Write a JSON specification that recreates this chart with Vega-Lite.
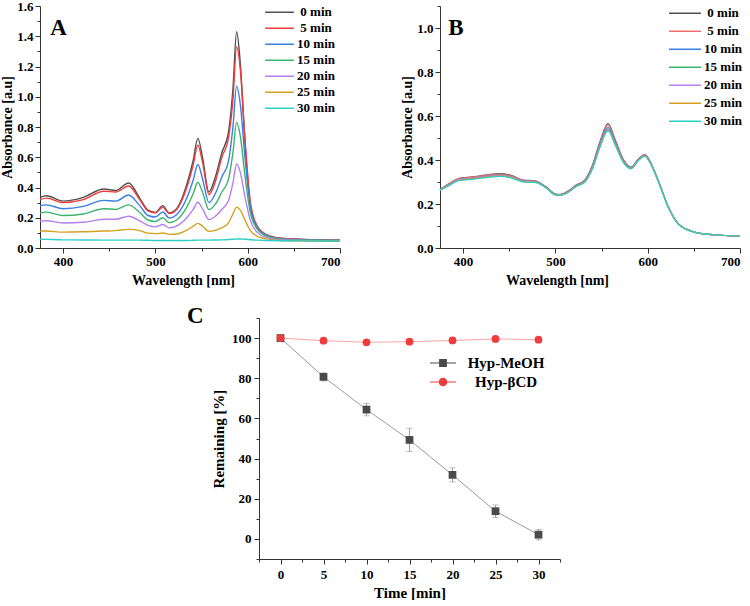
{
  "$schema": "https://vega.github.io/schema/vega-lite/v6.json",
  "padding": {"left": 0, "top": 0, "right": 0, "bottom": 0},
  "background": "white",
  "config": {
    "view": {"stroke": null},
    "font": "Liberation Serif",
    "axis": {"labelFont": "Liberation Serif", "labelFontSize": 13, "labelFontWeight": "bold", "labelColor": "#000", "titleFont": "Liberation Serif", "titleFontSize": 14, "titleFontWeight": "bold", "titleColor": "#000", "domainColor": "#333", "tickColor": "#333", "grid": false, "labelOverlap": false, "labelPadding": 2, "titlePadding": 4, "tickCount": 100},
    "legend": {"labelFont": "Liberation Serif", "labelFontWeight": "bold", "labelFontSize": 13, "labelColor": "#000", "padding": 0}
  },
  "spacing": 18,
  "resolve": {"scale": {"color": "independent", "shape": "independent"}, "legend": {"color": "independent", "shape": "independent"}},
  "vconcat": [
    {
      "spacing": 57,
      "resolve": {"scale": {"color": "independent"}, "legend": {"color": "independent"}},
      "hconcat": [
        {
          "width": 300, "height": 242,
          "layer": [
            {
              "data": {"values": [
                {"w": 375, "0 min": 0.335, "5 min": 0.32, "10 min": 0.28, "15 min": 0.232, "20 min": 0.178, "25 min": 0.112, "30 min": 0.058},
                {"w": 382, "0 min": 0.345, "5 min": 0.33, "10 min": 0.285, "15 min": 0.237, "20 min": 0.18, "25 min": 0.112, "30 min": 0.057},
                {"w": 400, "0 min": 0.31, "5 min": 0.3, "10 min": 0.26, "15 min": 0.215, "20 min": 0.165, "25 min": 0.105, "30 min": 0.054},
                {"w": 422, "0 min": 0.335, "5 min": 0.32, "10 min": 0.275, "15 min": 0.225, "20 min": 0.17, "25 min": 0.107, "30 min": 0.053},
                {"w": 444, "0 min": 0.39, "5 min": 0.375, "10 min": 0.315, "15 min": 0.26, "20 min": 0.19, "25 min": 0.112, "30 min": 0.052},
                {"w": 457, "0 min": 0.38, "5 min": 0.37, "10 min": 0.31, "15 min": 0.255, "20 min": 0.19, "25 min": 0.115, "30 min": 0.052},
                {"w": 471, "0 min": 0.43, "5 min": 0.41, "10 min": 0.35, "15 min": 0.285, "20 min": 0.21, "25 min": 0.123, "30 min": 0.052},
                {"w": 483, "0 min": 0.33, "5 min": 0.32, "10 min": 0.28, "15 min": 0.235, "20 min": 0.18, "25 min": 0.115, "30 min": 0.052},
                {"w": 492, "0 min": 0.25, "5 min": 0.245, "10 min": 0.215, "15 min": 0.185, "20 min": 0.15, "25 min": 0.098, "30 min": 0.051},
                {"w": 500, "0 min": 0.235, "5 min": 0.232, "10 min": 0.205, "15 min": 0.175, "20 min": 0.14, "25 min": 0.095, "30 min": 0.05},
                {"w": 508, "0 min": 0.28, "5 min": 0.27, "10 min": 0.238, "15 min": 0.2, "20 min": 0.155, "25 min": 0.099, "30 min": 0.05},
                {"w": 515, "0 min": 0.232, "5 min": 0.228, "10 min": 0.198, "15 min": 0.168, "20 min": 0.133, "25 min": 0.09, "30 min": 0.05},
                {"w": 523, "0 min": 0.26, "5 min": 0.255, "10 min": 0.22, "15 min": 0.185, "20 min": 0.145, "25 min": 0.093, "30 min": 0.05},
                {"w": 534, "0 min": 0.42, "5 min": 0.4, "10 min": 0.33, "15 min": 0.27, "20 min": 0.2, "25 min": 0.118, "30 min": 0.05},
                {"w": 541, "0 min": 0.58, "5 min": 0.55, "10 min": 0.45, "15 min": 0.36, "20 min": 0.255, "25 min": 0.145, "30 min": 0.051},
                {"w": 546, "0 min": 0.725, "5 min": 0.68, "10 min": 0.552, "15 min": 0.435, "20 min": 0.302, "25 min": 0.163, "30 min": 0.052},
                {"w": 551, "0 min": 0.6, "5 min": 0.57, "10 min": 0.46, "15 min": 0.37, "20 min": 0.26, "25 min": 0.145, "30 min": 0.052},
                {"w": 558, "0 min": 0.37, "5 min": 0.353, "10 min": 0.3, "15 min": 0.254, "20 min": 0.188, "25 min": 0.11, "30 min": 0.052},
                {"w": 565, "0 min": 0.47, "5 min": 0.44, "10 min": 0.36, "15 min": 0.29, "20 min": 0.21, "25 min": 0.117, "30 min": 0.053},
                {"w": 572, "0 min": 0.63, "5 min": 0.6, "10 min": 0.47, "15 min": 0.37, "20 min": 0.255, "25 min": 0.135, "30 min": 0.054},
                {"w": 579, "0 min": 0.76, "5 min": 0.72, "10 min": 0.57, "15 min": 0.45, "20 min": 0.31, "25 min": 0.165, "30 min": 0.056},
                {"w": 584, "0 min": 1.05, "5 min": 0.98, "10 min": 0.8, "15 min": 0.63, "20 min": 0.43, "25 min": 0.225, "30 min": 0.058},
                {"w": 588, "0 min": 1.43, "5 min": 1.33, "10 min": 1.07, "15 min": 0.83, "20 min": 0.555, "25 min": 0.27, "30 min": 0.06},
                {"w": 592, "0 min": 1.22, "5 min": 1.18, "10 min": 0.95, "15 min": 0.74, "20 min": 0.5, "25 min": 0.25, "30 min": 0.06},
                {"w": 597, "0 min": 0.71, "5 min": 0.72, "10 min": 0.6, "15 min": 0.48, "20 min": 0.34, "25 min": 0.185, "30 min": 0.058},
                {"w": 603, "0 min": 0.27, "5 min": 0.3, "10 min": 0.27, "15 min": 0.23, "20 min": 0.18, "25 min": 0.115, "30 min": 0.055},
                {"w": 610, "0 min": 0.13, "5 min": 0.15, "10 min": 0.14, "15 min": 0.13, "20 min": 0.105, "25 min": 0.078, "30 min": 0.052},
                {"w": 620, "0 min": 0.085, "5 min": 0.09, "10 min": 0.085, "15 min": 0.08, "20 min": 0.07, "25 min": 0.06, "30 min": 0.05},
                {"w": 635, "0 min": 0.065, "5 min": 0.065, "10 min": 0.062, "15 min": 0.06, "20 min": 0.055, "25 min": 0.05, "30 min": 0.048},
                {"w": 660, "0 min": 0.057, "5 min": 0.057, "10 min": 0.055, "15 min": 0.053, "20 min": 0.05, "25 min": 0.048, "30 min": 0.047},
                {"w": 700, "0 min": 0.052, "5 min": 0.052, "10 min": 0.05, "15 min": 0.049, "20 min": 0.047, "25 min": 0.046, "30 min": 0.045}
              ]},
              "transform": [{"fold": ["0 min", "5 min", "10 min", "15 min", "20 min", "25 min", "30 min"], "as": ["time", "abs"]}],
              "mark": {"type": "line", "interpolate": "monotone", "strokeWidth": 1.4},
              "encoding": {
                "x": {"field": "w", "type": "quantitative", "scale": {"domain": [375, 700], "nice": false, "zero": false},
                  "axis": {"title": "Wavelength [nm]", "titleX": 143, "values": [400, 450, 500, 550, 600, 650, 700], "tickCount": 100, "labelExpr": "datum.value % 100 === 0 ? datum.label : ''", "tickSize": {"condition": {"test": "datum.value % 100 === 0", "value": 5}, "value": 3}, "titlePadding": 5, "labelOverlap": false}},
                "y": {"field": "abs", "type": "quantitative", "scale": {"domain": [0, 1.6], "nice": false},
                  "axis": {"title": "Absorbance [a.u]", "values": [0, 0.1, 0.2, 0.3, 0.4, 0.5, 0.6, 0.7, 0.8, 0.9, 1.0, 1.1, 1.2, 1.3, 1.4, 1.5, 1.6], "tickCount": 100, "labelExpr": "round(datum.value*10) % 2 === 0 ? format(datum.value, '.1f') : ''", "tickSize": {"condition": {"test": "round(datum.value*10) % 2 === 0", "value": 5}, "value": 3}, "titlePadding": 2, "labelOverlap": false}},
                "color": {"field": "time", "type": "nominal",
                  "scale": {"domain": ["0 min", "5 min", "10 min", "15 min", "20 min", "25 min", "30 min"], "range": ["#505050", "#f03c3c", "#3a7ee4", "#3cb46e", "#b57ff0", "#d4a020", "#2ccfc8"]},
                  "legend": {"title": null, "orient": "none", "legendX": 224, "legendY": -1.5, "symbolType": "stroke", "symbolSize": 824, "symbolStrokeWidth": 1.6, "clipHeight": 15.5, "rowPadding": 0, "labelAlign": "center", "labelOffset": 21}}
              }
            },
            {
              "data": {"values": [{"w": 386, "abs": 1.455, "label": "A"}]},
              "mark": {"type": "text", "font": "Liberation Serif", "fontWeight": "bold", "fontSize": 23, "align": "left", "baseline": "middle", "color": "#000"},
              "encoding": {"x": {"field": "w", "type": "quantitative"}, "y": {"field": "abs", "type": "quantitative"}, "text": {"field": "label"}}
            }
          ]
        },
        {
          "width": 300, "height": 242,
          "layer": [
            {
              "data": {"values": [
                {"w": 375, "0 min": 0.266, "5 min": 0.266, "10 min": 0.265, "15 min": 0.264, "20 min": 0.264, "25 min": 0.263, "30 min": 0.262},
                {"w": 385, "0 min": 0.293, "5 min": 0.292, "10 min": 0.288, "15 min": 0.286, "20 min": 0.287, "25 min": 0.285, "30 min": 0.284},
                {"w": 395, "0 min": 0.316, "5 min": 0.315, "10 min": 0.311, "15 min": 0.309, "20 min": 0.31, "25 min": 0.308, "30 min": 0.306},
                {"w": 410, "0 min": 0.323, "5 min": 0.322, "10 min": 0.317, "15 min": 0.315, "20 min": 0.316, "25 min": 0.314, "30 min": 0.312},
                {"w": 425, "0 min": 0.332, "5 min": 0.33, "10 min": 0.325, "15 min": 0.323, "20 min": 0.324, "25 min": 0.322, "30 min": 0.32},
                {"w": 440, "0 min": 0.338, "5 min": 0.336, "10 min": 0.331, "15 min": 0.329, "20 min": 0.33, "25 min": 0.328, "30 min": 0.326},
                {"w": 452, "0 min": 0.33, "5 min": 0.328, "10 min": 0.324, "15 min": 0.322, "20 min": 0.323, "25 min": 0.321, "30 min": 0.319},
                {"w": 465, "0 min": 0.309, "5 min": 0.308, "10 min": 0.305, "15 min": 0.303, "20 min": 0.304, "25 min": 0.302, "30 min": 0.301},
                {"w": 478, "0 min": 0.305, "5 min": 0.304, "10 min": 0.302, "15 min": 0.3, "20 min": 0.301, "25 min": 0.299, "30 min": 0.298},
                {"w": 490, "0 min": 0.278, "5 min": 0.277, "10 min": 0.276, "15 min": 0.274, "20 min": 0.275, "25 min": 0.274, "30 min": 0.273},
                {"w": 500, "0 min": 0.245, "5 min": 0.244, "10 min": 0.243, "15 min": 0.242, "20 min": 0.243, "25 min": 0.242, "30 min": 0.241},
                {"w": 505, "0 min": 0.243, "5 min": 0.242, "10 min": 0.241, "15 min": 0.24, "20 min": 0.241, "25 min": 0.24, "30 min": 0.239},
                {"w": 515, "0 min": 0.262, "5 min": 0.261, "10 min": 0.259, "15 min": 0.257, "20 min": 0.258, "25 min": 0.257, "30 min": 0.256},
                {"w": 522, "0 min": 0.285, "5 min": 0.284, "10 min": 0.281, "15 min": 0.279, "20 min": 0.28, "25 min": 0.279, "30 min": 0.278},
                {"w": 532, "0 min": 0.31, "5 min": 0.309, "10 min": 0.305, "15 min": 0.302, "20 min": 0.303, "25 min": 0.301, "30 min": 0.3},
                {"w": 540, "0 min": 0.375, "5 min": 0.373, "10 min": 0.367, "15 min": 0.363, "20 min": 0.362, "25 min": 0.36, "30 min": 0.358},
                {"w": 548, "0 min": 0.48, "5 min": 0.477, "10 min": 0.468, "15 min": 0.462, "20 min": 0.46, "25 min": 0.457, "30 min": 0.455},
                {"w": 557, "0 min": 0.565, "5 min": 0.56, "10 min": 0.548, "15 min": 0.54, "20 min": 0.538, "25 min": 0.535, "30 min": 0.532},
                {"w": 565, "0 min": 0.49, "5 min": 0.487, "10 min": 0.478, "15 min": 0.472, "20 min": 0.47, "25 min": 0.468, "30 min": 0.466},
                {"w": 574, "0 min": 0.4, "5 min": 0.398, "10 min": 0.393, "15 min": 0.39, "20 min": 0.389, "25 min": 0.388, "30 min": 0.387},
                {"w": 582, "0 min": 0.368, "5 min": 0.367, "10 min": 0.364, "15 min": 0.362, "20 min": 0.362, "25 min": 0.361, "30 min": 0.36},
                {"w": 590, "0 min": 0.405, "5 min": 0.404, "10 min": 0.402, "15 min": 0.4, "20 min": 0.4, "25 min": 0.399, "30 min": 0.398},
                {"w": 597, "0 min": 0.425, "5 min": 0.424, "10 min": 0.421, "15 min": 0.419, "20 min": 0.419, "25 min": 0.418, "30 min": 0.417},
                {"w": 603, "0 min": 0.39, "5 min": 0.389, "10 min": 0.387, "15 min": 0.386, "20 min": 0.386, "25 min": 0.385, "30 min": 0.385},
                {"w": 612, "0 min": 0.3, "5 min": 0.3, "10 min": 0.299, "15 min": 0.298, "20 min": 0.298, "25 min": 0.298, "30 min": 0.297},
                {"w": 622, "0 min": 0.19, "5 min": 0.19, "10 min": 0.19, "15 min": 0.189, "20 min": 0.189, "25 min": 0.189, "30 min": 0.189},
                {"w": 632, "0 min": 0.115, "5 min": 0.115, "10 min": 0.115, "15 min": 0.115, "20 min": 0.115, "25 min": 0.114, "30 min": 0.114},
                {"w": 645, "0 min": 0.08, "5 min": 0.08, "10 min": 0.08, "15 min": 0.08, "20 min": 0.08, "25 min": 0.08, "30 min": 0.08},
                {"w": 660, "0 min": 0.064, "5 min": 0.064, "10 min": 0.064, "15 min": 0.064, "20 min": 0.064, "25 min": 0.064, "30 min": 0.064},
                {"w": 680, "0 min": 0.058, "5 min": 0.058, "10 min": 0.058, "15 min": 0.058, "20 min": 0.058, "25 min": 0.058, "30 min": 0.058},
                {"w": 700, "0 min": 0.054, "5 min": 0.054, "10 min": 0.054, "15 min": 0.054, "20 min": 0.054, "25 min": 0.054, "30 min": 0.054}
              ]},
              "transform": [{"fold": ["0 min", "5 min", "10 min", "15 min", "20 min", "25 min", "30 min"], "as": ["time", "abs"]}],
              "mark": {"type": "line", "interpolate": "monotone", "strokeWidth": 1.2},
              "encoding": {
                "x": {"field": "w", "type": "quantitative", "scale": {"domain": [375, 700], "nice": false, "zero": false},
                  "axis": {"title": "Wavelength [nm]", "titleX": 117, "values": [400, 450, 500, 550, 600, 650, 700], "tickCount": 100, "labelExpr": "datum.value % 100 === 0 ? datum.label : ''", "tickSize": {"condition": {"test": "datum.value % 100 === 0", "value": 5}, "value": 3}, "titlePadding": 5, "labelOverlap": false}},
                "y": {"field": "abs", "type": "quantitative", "scale": {"domain": [0, 1.1], "nice": false},
                  "axis": {"title": "Absorbance [a.u]", "values": [0, 0.1, 0.2, 0.3, 0.4, 0.5, 0.6, 0.7, 0.8, 0.9, 1.0, 1.1], "tickCount": 100, "labelExpr": "round(datum.value*10) % 2 === 0 ? format(datum.value, '.1f') : ''", "tickSize": {"condition": {"test": "round(datum.value*10) % 2 === 0", "value": 5}, "value": 3}, "titlePadding": 2, "labelOverlap": false}},
                "color": {"field": "time", "type": "nominal",
                  "scale": {"domain": ["0 min", "5 min", "10 min", "15 min", "20 min", "25 min", "30 min"], "range": ["#505050", "#f07070", "#3a7ee4", "#3cb46e", "#b57ff0", "#d4a020", "#2ccfc8"]},
                  "legend": {"title": null, "orient": "none", "legendX": 228, "legendY": -1.5, "symbolType": "stroke", "symbolSize": 1024, "symbolStrokeWidth": 1.6, "clipHeight": 17.5, "rowPadding": 0, "labelAlign": "center", "labelOffset": 21}}
              }
            },
            {
              "data": {"values": [{"w": 384, "abs": 1.0, "label": "B"}]},
              "mark": {"type": "text", "font": "Liberation Serif", "fontWeight": "bold", "fontSize": 23, "align": "left", "baseline": "middle", "color": "#000"},
              "encoding": {"x": {"field": "w", "type": "quantitative"}, "y": {"field": "abs", "type": "quantitative"}, "text": {"field": "label"}}
            }
          ]
        }
      ]
    },
    {
      "spacing": 0,
      "resolve": {"scale": {"color": "independent", "shape": "independent"}, "legend": {"color": "independent", "shape": "independent"}},
      "hconcat": [
        {
          "width": 147, "height": 241,
          "view": {"fill": "transparent", "stroke": null},
          "data": {"values": []},
          "mark": "point",
          "encoding": {}
        },
        {
          "width": 301, "height": 241,
          "data": {"values": [
            {"series": "Hyp-MeOH", "time": 0, "rem": 100, "lo": 100, "hi": 100},
            {"series": "Hyp-MeOH", "time": 5, "rem": 80.7, "lo": 78.7, "hi": 82.7},
            {"series": "Hyp-MeOH", "time": 10, "rem": 64.4, "lo": 61.3, "hi": 67.5},
            {"series": "Hyp-MeOH", "time": 15, "rem": 49.3, "lo": 43.5, "hi": 55.1},
            {"series": "Hyp-MeOH", "time": 20, "rem": 31.9, "lo": 28.4, "hi": 35.4},
            {"series": "Hyp-MeOH", "time": 25, "rem": 13.8, "lo": 10.7, "hi": 16.9},
            {"series": "Hyp-MeOH", "time": 30, "rem": 2.1, "lo": -0.5, "hi": 4.7},
            {"series": "Hyp-βCD", "time": 0, "rem": 100, "lo": 100, "hi": 100},
            {"series": "Hyp-βCD", "time": 5, "rem": 98.7, "lo": 98.7, "hi": 98.7},
            {"series": "Hyp-βCD", "time": 10, "rem": 97.9, "lo": 97.9, "hi": 97.9},
            {"series": "Hyp-βCD", "time": 15, "rem": 98.2, "lo": 98.2, "hi": 98.2},
            {"series": "Hyp-βCD", "time": 20, "rem": 98.8, "lo": 98.8, "hi": 98.8},
            {"series": "Hyp-βCD", "time": 25, "rem": 99.6, "lo": 99.6, "hi": 99.6},
            {"series": "Hyp-βCD", "time": 30, "rem": 99.2, "lo": 99.2, "hi": 99.2}
          ]},
          "layer": [
            {
              "transform": [{"filter": "datum.series === 'Hyp-MeOH'"}],
              "mark": {"type": "line", "strokeWidth": 1, "color": "#9a9a9a"},
              "encoding": {
                "x": {"field": "time", "type": "quantitative", "scale": {"domain": [-2.5, 32.5], "nice": false, "zero": false},
                  "axis": {"title": "Time [min]", "titleFontSize": 15, "values": [-2.5, 0, 2.5, 5, 7.5, 10, 12.5, 15, 17.5, 20, 22.5, 25, 27.5, 30, 32.5], "tickCount": 100, "labelExpr": "datum.value % 5 === 0 ? format(datum.value, 'd') : ''", "tickSize": {"condition": {"test": "datum.value % 5 === 0", "value": 5}, "value": 3}, "labelPadding": 4, "titlePadding": 4, "labelOverlap": false}},
                "y": {"field": "rem", "type": "quantitative", "scale": {"domain": [-10, 110], "nice": false, "zero": false},
                  "axis": {"title": "Remaining [%]", "titleFontSize": 15, "values": [-10, 0, 10, 20, 30, 40, 50, 60, 70, 80, 90, 100, 110], "tickCount": 100, "labelExpr": "datum.value % 20 === 0 ? format(datum.value, 'd') : ''", "tickSize": {"condition": {"test": "datum.value % 20 === 0", "value": 5}, "value": 3}, "labelPadding": 3, "titlePadding": 5, "labelOverlap": false}}
              }
            },
            {
              "transform": [{"filter": "datum.series === 'Hyp-βCD'"}],
              "mark": {"type": "line", "strokeWidth": 1, "color": "#f5a5a5"},
              "encoding": {
                "x": {"field": "time", "type": "quantitative"},
                "y": {"field": "rem", "type": "quantitative"}
              }
            },
            {
              "transform": [{"filter": "datum.series === 'Hyp-MeOH'"}],
              "mark": {"type": "rule", "color": "#a0a0a0", "strokeWidth": 1},
              "encoding": {
                "x": {"field": "time", "type": "quantitative"},
                "y": {"field": "lo", "type": "quantitative"},
                "y2": {"field": "hi"}
              }
            },
            {
              "transform": [{"filter": "datum.series === 'Hyp-MeOH' && datum.time > 0"}],
              "mark": {"type": "tick", "orient": "horizontal", "color": "#a0a0a0", "size": 6, "thickness": 1},
              "encoding": {
                "x": {"field": "time", "type": "quantitative"},
                "y": {"field": "lo", "type": "quantitative"}
              }
            },
            {
              "transform": [{"filter": "datum.series === 'Hyp-MeOH' && datum.time > 0"}],
              "mark": {"type": "tick", "orient": "horizontal", "color": "#a0a0a0", "size": 6, "thickness": 1},
              "encoding": {
                "x": {"field": "time", "type": "quantitative"},
                "y": {"field": "hi", "type": "quantitative"}
              }
            },
            {
              "transform": [{"filter": "datum.series === 'Hyp-MeOH'"}],
              "mark": {"type": "square", "color": "#4a4a4a", "opacity": 1, "size": 60},
              "encoding": {
                "x": {"field": "time", "type": "quantitative"},
                "y": {"field": "rem", "type": "quantitative"}
              }
            },
            {
              "transform": [{"filter": "datum.series === 'Hyp-βCD'"}],
              "mark": {"type": "circle", "color": "#f03c3c", "opacity": 1, "size": 60},
              "encoding": {
                "x": {"field": "time", "type": "quantitative"},
                "y": {"field": "rem", "type": "quantitative"}
              }
            },
            {
              "transform": [{"filter": "false"}],
              "mark": {"type": "point", "filled": true, "opacity": 1},
              "encoding": {
                "x": {"field": "time", "type": "quantitative"},
                "y": {"field": "rem", "type": "quantitative"},
                "shape": {"field": "series", "type": "nominal",
                  "scale": {"domain": ["Hyp-MeOH", "Hyp-βCD"], "range": ["M-1,-0.04H1V0.04H-1Z M-0.3,-0.3H0.3V0.3H-0.3Z", "M-1,-0.04H1V0.04H-1Z M0.33,0A0.33,0.33 0 1 1 -0.33,0A0.33,0.33 0 1 1 0.33,0Z"]},
                  "legend": {"title": null, "orient": "none", "legendX": 170, "legendY": 35.5, "symbolSize": 676, "clipHeight": 19, "rowPadding": 0, "labelAlign": "center", "labelOffset": 49, "labelFontSize": 15}},
                "color": {"field": "series", "type": "nominal", "scale": {"domain": ["Hyp-MeOH", "Hyp-βCD"], "range": ["#4a4a4a", "#f03c3c"]},
                  "legend": {"title": null, "orient": "none", "legendX": 170, "legendY": 35.5, "symbolSize": 676, "clipHeight": 19, "rowPadding": 0, "labelAlign": "center", "labelOffset": 49, "labelFontSize": 15}}
              }
            },
            {
              "data": {"values": [{"time": -9.9, "rem": 110.8, "label": "C"}]},
              "mark": {"type": "text", "font": "Liberation Serif", "fontWeight": "bold", "fontSize": 23, "align": "center", "baseline": "middle", "color": "#000"},
              "encoding": {"x": {"field": "time", "type": "quantitative"}, "y": {"field": "rem", "type": "quantitative"}, "text": {"field": "label"}}
            }
          ]
        }
      ]
    }
  ]
}
